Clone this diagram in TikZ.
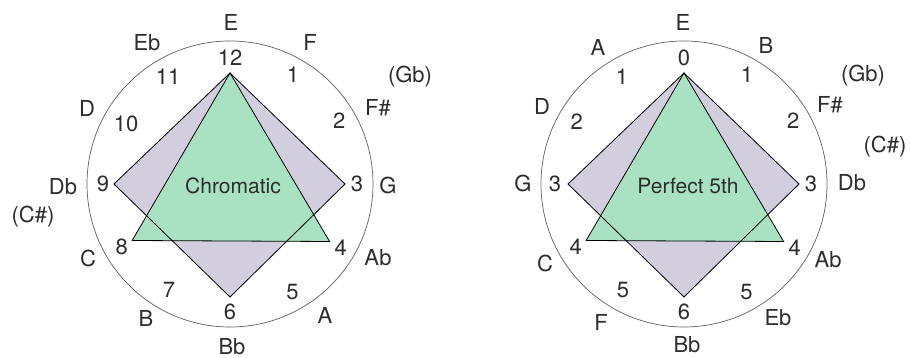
\documentclass[tikz,border=0pt]{standalone}
\usepackage{fontspec}
\setmainfont{TeX Gyre Heros}
\usetikzlibrary{positioning}
\definecolor{vert}{RGB}{168,226,194}
\definecolor{lilas}{RGB}{210,206,221}
\definecolor{gris}{RGB}{95,95,95}
\definecolor{texte}{RGB}{45,45,45}

\tikzset{
  note/.style={text=texte, inner sep=0pt, font=\fontsize{22}{26}\selectfont},
  rang/.style={note},
  titre/.style={text=texte, inner sep=0pt, font=\fontsize{21}{25}\selectfont},
  cercle/.style={draw=gris, line width=0.7pt},
  trait/.style={draw=black, line width=0.8pt, line join=miter},
}

\begin{document}
\begin{tikzpicture}[x=1pt, y=1pt]
\useasboundingbox (0,0) rectangle (910,358);

% Cercle chromatique
\begin{scope}[shift={(230,174)}]
  \draw[cercle] (0,0) circle (143pt);

  \coordinate (cH) at (90:111);
  \coordinate (cD) at (0:115);
  \coordinate (cB) at (-90:113);
  \coordinate (cG) at (180:116);
  \coordinate (cBG) at (210:113);
  \coordinate (cBD) at (330:115);

  \fill[lilas] (cH) -- (cD) -- (cB) -- (cG) -- cycle;
  \fill[vert] (cH) -- (cBD) -- (cBG) -- cycle;
  \draw[trait] (cH) -- (cD) -- (cB) -- (cG) -- cycle;
  \draw[trait] (cH) -- (cBD) -- (cBG) -- cycle;

  \node[titre] (chrom) at (3,-2) {Chromatic};

  % Rangs
  \node[rang] (c12) at (90:126) {12};
  \node[rang] (c1) at (60:126) {1};
  \node[rang] (c2) at (30:126) {2};
  \node[rang] (c3) at (0:127) {3};
  \node[rang] (c4) at (-30:128) {4};
  \node[rang] (c5) at (-60:125) {5};
  \node[rang] (c6) at (-90:128) {6};
  \node[rang] (c7) at (-120:122) {7};
  \node[rang] (c8) at (-150:125) {8};
  \node[rang] (c9) at (180:127) {9};
  \node[rang] (c10) at (150:120) {10};
  \node[rang] (c11) at (120:124) {11};

  % Notes
  \node[note] (nE) at (1,162) {E};
  \node[note] (nF) at (80,142) {F};
  \node[note] (nGb) at (180,107) {(Gb)};
  \node[note] (nFd) at (148,76) {F\#};
  \node[note] (nG) at (158,-1) {G};
  \node[note] (nAb) at (148,-74) {Ab};
  \node[note] (nA) at (95,-131) {A};
  \node[note] (nBb) at (2,-163) {Bb};
  \node[note] (nB) at (-84,-134) {B};
  \node[note] (nC) at (-142,-74) {C};
  \node[note] (nCd) at (-197,-33) {(C\#)};
  \node[note] (nDb) at (-167,-3) {Db};
  \node[note] (nD) at (-143,76) {D};
  \node[note] (nEb) at (-83,141) {Eb};
\end{scope}

% Cercle des quintes
\begin{scope}[shift={(684,174)}]
  \draw[cercle] (0,0) circle (143pt);

  \coordinate (qH) at (90:111);
  \coordinate (qD) at (0:115);
  \coordinate (qB) at (-90:113);
  \coordinate (qG) at (180:116);
  \coordinate (qBG) at (210:113);
  \coordinate (qBD) at (330:115);

  \fill[lilas] (qH) -- (qD) -- (qB) -- (qG) -- cycle;
  \fill[vert] (qH) -- (qBD) -- (qBG) -- cycle;
  \draw[trait] (qH) -- (qD) -- (qB) -- (qG) -- cycle;
  \draw[trait] (qH) -- (qBD) -- (qBG) -- cycle;

  \node[titre] (quinte) at (4,-2) {Perfect 5th};

  % Rangs
  \node[rang] (q0) at (90:126) {0};
  \node[rang] (q1) at (60:126) {1};
  \node[rang] (q2) at (30:126) {2};
  \node[rang] (q3) at (0:127) {3};
  \node[rang] (q4) at (-30:128) {4};
  \node[rang] (q5) at (-60:125) {5};
  \node[rang] (q6) at (-90:128) {6};
  \node[rang] (q7) at (-120:122) {5};
  \node[rang] (q8) at (-150:125) {4};
  \node[rang] (q9) at (180:129) {3};
  \node[rang] (q10) at (150:124) {2};
  \node[rang] (q11) at (120:124) {1};

  % Notes
  \node[note] (fE) at (-1,162) {E};
  \node[note] (fB) at (82,139) {B};
  \node[note] (fGb) at (179,108) {(Gb)};
  \node[note] (fFd) at (146,79) {F\#};
  \node[note] (fCd) at (201,37) {(C\#)};
  \node[note] (fDb) at (168,1) {Db};
  \node[note] (fAb) at (144,-76) {Ab};
  \node[note] (fEb) at (94,-134) {Eb};
  \node[note] (fBb) at (3,-161) {Bb};
  \node[note] (fF) at (-83,-138) {F};
  \node[note] (fC) at (-139,-79) {C};
  \node[note] (fG) at (-161,1) {G};
  \node[note] (fD) at (-142,78) {D};
  \node[note] (fA) at (-86,137) {A};
\end{scope}
\end{tikzpicture}
\end{document}
